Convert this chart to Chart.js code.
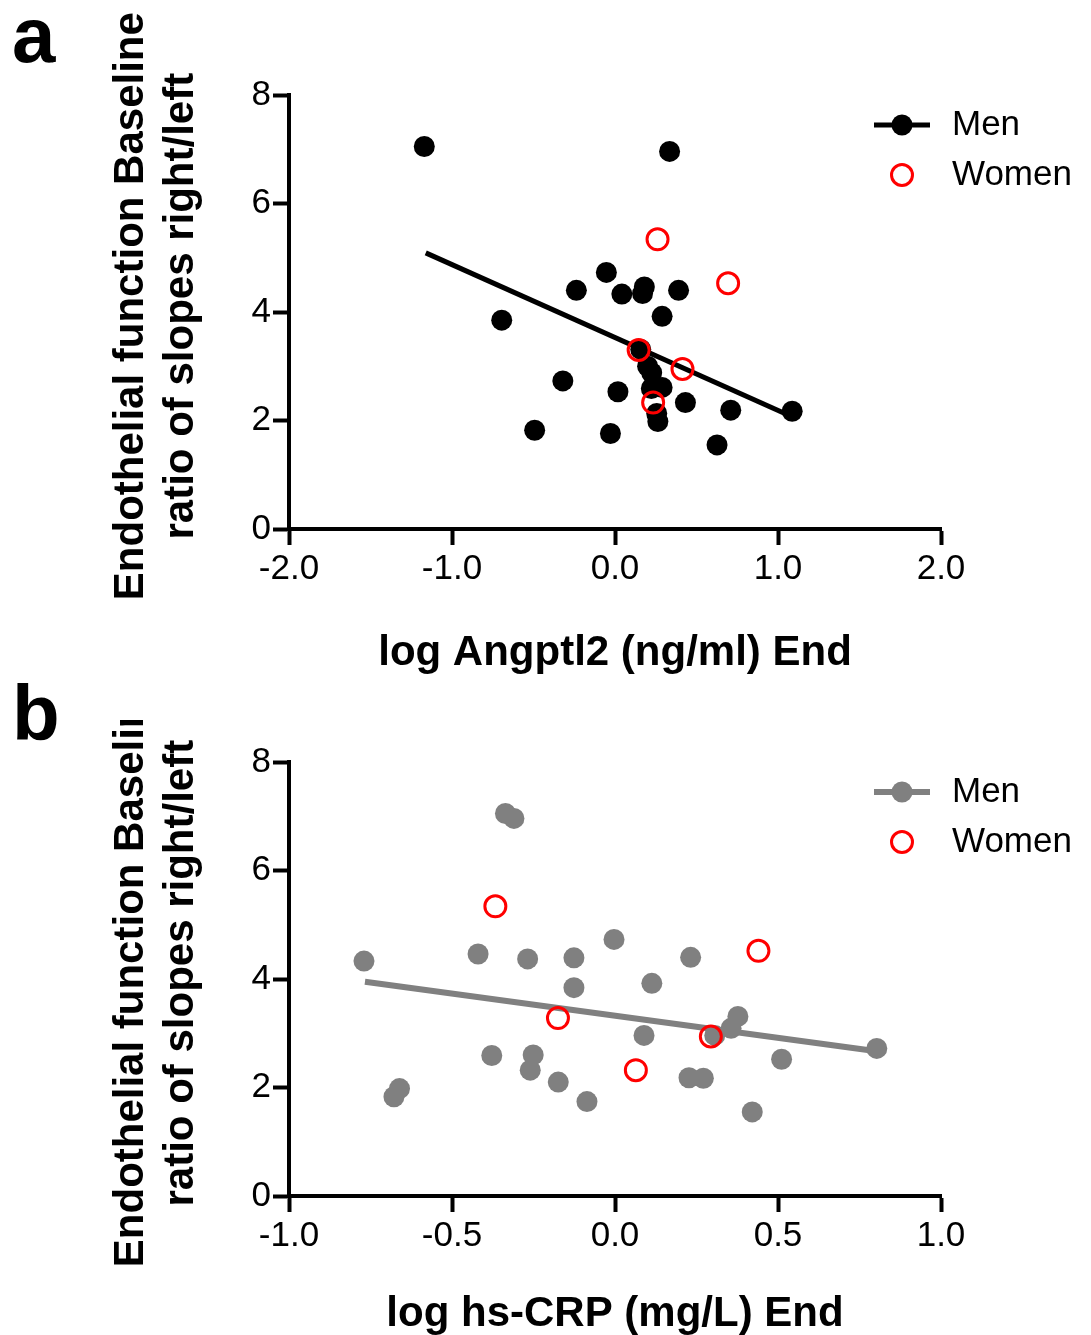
<!DOCTYPE html>
<html>
<head>
<meta charset="utf-8">
<script src="https://cdn.jsdelivr.net/npm/chart.js@4.4.1/dist/chart.umd.min.js"></script>
<style>
  body { margin: 0; background: #fff; width: 1091px; height: 1335px; position: relative; overflow: hidden; font-family: 'Liberation Sans', Arial, sans-serif; }
  .letter { position: absolute; left: 12px; font-weight: bold; font-size: 78px; line-height: 1; z-index: 2; }
  .wrap { position: absolute; left: 0; }
</style>
</head>
<body>
<div class="letter" style="top:-4px">a</div>
<div class="letter" style="top:674px">b</div>
<div class="wrap" style="top:0"><canvas id="chartA" width="1091" height="700"></canvas></div>
<div class="wrap" style="top:720px"><canvas id="chartB" width="1091" height="615"></canvas></div>
<script>
const FONT = "'Liberation Sans', Arial, sans-serif";

// panel a - log Angptl2 (ng/ml) End
const menAX = [-1.17, 0.335, -0.053, -0.237, 0.042, 0.18, 0.169, 0.39, 0.289, -0.695, 0.158, 0.20, 0.225, 0.289, 0.223, -0.32, 0.018, 0.432, 0.256, 0.263, 0.71, 1.087, -0.493, -0.028, 0.626];
const menAY = [7.05, 6.96, 4.73, 4.40, 4.33, 4.46, 4.34, 4.40, 3.92, 3.85, 3.31, 3.00, 2.88, 2.61, 2.59, 2.73, 2.53, 2.33, 2.13, 1.98, 2.19, 2.17, 1.82, 1.76, 1.55];
const womenAX = [0.261, 0.694, 0.145, 0.414, 0.234];
const womenAY = [5.34, 4.53, 3.30, 2.95, 2.33];
const fitAX = [-1.161, 1.087];
const fitAY = [5.09, 2.07];

// panel b - log hs-CRP (mg/L) End
const menBX = [-0.770, -0.336, -0.310, -0.420, -0.268, -0.126, -0.003, 0.232, -0.126, 0.113, 0.377, 0.356, 0.306, 0.089, 0.803, -0.378, -0.251, -0.260, -0.174, 0.511, 0.227, 0.271, -0.661, -0.678, -0.086, 0.421];
const menBY = [4.33, 7.05, 6.96, 4.46, 4.37, 4.39, 4.73, 4.40, 3.84, 3.92, 3.31, 3.09, 2.96, 2.96, 2.72, 2.59, 2.60, 2.32, 2.10, 2.52, 2.18, 2.17, 1.98, 1.83, 1.74, 1.55];
const womenBX = [-0.367, 0.440, -0.175, 0.294, 0.064];
const womenBY = [5.34, 4.52, 3.28, 2.94, 2.32];
const fitBX = [-0.767, 0.803];
const fitBY = [3.95, 2.67];

// leading space nudges the rotated title up a little, as in the original
const yTitle = [' Endothelial function Baseline', ' ratio of slopes right/left'];

function pts(xs, ys) {
  return xs.map((x, i) => ({ x: x, y: ys[i] }));
}

// legend drawn inside the plot, like the original figure
const sideLegend = {
  id: 'sideLegend',
  afterDatasetsDraw(chart, args, opts) {
    const ctx = chart.ctx;
    const ds = chart.data.datasets;
    ctx.save();
    ctx.font = '35px ' + FONT;
    ctx.textBaseline = 'middle';
    ctx.fillStyle = '#000';
    opts.items.forEach((it, i) => {
      const y = opts.top + i * opts.gap;
      const cx = opts.left + 28;
      const p = ds[it.points];
      if (it.line != null) {
        const l = ds[it.line];
        ctx.strokeStyle = l.borderColor;
        ctx.lineWidth = l.borderWidth;
        ctx.beginPath();
        ctx.moveTo(opts.left, y);
        ctx.lineTo(opts.left + 56, y);
        ctx.stroke();
      }
      ctx.beginPath();
      ctx.arc(cx, y, p.pointRadius, 0, Math.PI * 2);
      if (p.pointBorderWidth) {
        ctx.strokeStyle = p.pointBorderColor;
        ctx.lineWidth = p.pointBorderWidth;
        ctx.stroke();
      } else {
        ctx.fillStyle = p.pointBackgroundColor;
        ctx.fill();
      }
      ctx.fillStyle = '#000';
      ctx.fillText(p.label, opts.textX, y);
    });
    ctx.restore();
  }
};

function makeChart(id, cfg) {
  const h = document.getElementById(id).height;
  return new Chart(document.getElementById(id), {
    type: 'scatter',
    data: {
      datasets: [
        {
          label: 'Women', data: pts(cfg.womenX, cfg.womenY), order: 1,
          pointRadius: 10.5, pointBorderWidth: 3, pointBorderColor: '#ff0000',
          pointBackgroundColor: 'rgba(0,0,0,0)', pointHoverRadius: 10.5
        },
        {
          label: 'Men', data: pts(cfg.menX, cfg.menY), order: 2,
          pointRadius: 10.5, pointBorderWidth: 0, pointBackgroundColor: cfg.menColor,
          pointHoverRadius: 10.5
        },
        {
          label: 'fit', type: 'line', data: pts(cfg.fitX, cfg.fitY), order: 3,
          borderColor: cfg.menColor, borderWidth: cfg.lineWidth, pointRadius: 0, fill: false
        }
      ]
    },
    options: {
      responsive: false,
      animation: false,
      layout: { padding: { left: 0, right: 150, top: cfg.top, bottom: 0 } },
      plugins: {
        legend: { display: false },
        tooltip: { enabled: false },
        sideLegend: { items: [{ points: 1, line: 2 }, { points: 0 }], left: 874, top: cfg.legendTop, gap: 50, textX: 952 }
      },
      scales: {
        x: {
          type: 'linear', min: cfg.xMin, max: cfg.xMax,
          ticks: { stepSize: cfg.xStep, color: '#000', padding: 3, font: { family: FONT, size: 35 }, callback: v => v.toFixed(1) },
          grid: { drawOnChartArea: false, drawTicks: true, tickLength: 16, tickWidth: 4, tickColor: '#000' },
          border: { display: true, color: '#000', width: 4 },
          title: { display: true, text: cfg.xTitle, color: '#000', padding: { top: 0, bottom: cfg.xTitlePad }, font: { family: FONT, size: 42, weight: 'bold', lineHeight: 1.2 } },
          afterFit: s => { s.height = h - cfg.bottom; }
        },
        y: {
          type: 'linear', min: 0, max: 8,
          ticks: { stepSize: 2, color: '#000', padding: 2, font: { family: FONT, size: 35 } },
          grid: { drawOnChartArea: false, drawTicks: true, tickLength: 16, tickWidth: 4, tickColor: '#000' },
          border: { display: true, color: '#000', width: 4 },
          title: { display: true, text: yTitle, color: '#000', padding: { top: 106, bottom: 0 }, font: { family: FONT, size: 42, weight: 'bold', lineHeight: 1.2 } },
          afterFit: s => { s.width = 289; }
        }
      }
    },
    plugins: [sideLegend]
  });
}

makeChart('chartA', {
  menX: menAX, menY: menAY, womenX: womenAX, womenY: womenAY, fitX: fitAX, fitY: fitAY,
  menColor: '#000000', lineWidth: 5,
  xMin: -2, xMax: 2, xStep: 1, xTitle: 'log Angptl2 (ng/ml) End', xTitlePad: 21,
  top: 95, bottom: 529, legendTop: 125
});

makeChart('chartB', {
  menX: menBX, menY: menBY, womenX: womenBX, womenY: womenBY, fitX: fitBX, fitY: fitBY,
  menColor: '#808080', lineWidth: 6,
  xMin: -1, xMax: 1, xStep: 0.5, xTitle: 'log hs-CRP (mg/L) End', xTitlePad: -5,
  top: 42, bottom: 476, legendTop: 72
});
</script>
</body>
</html>
